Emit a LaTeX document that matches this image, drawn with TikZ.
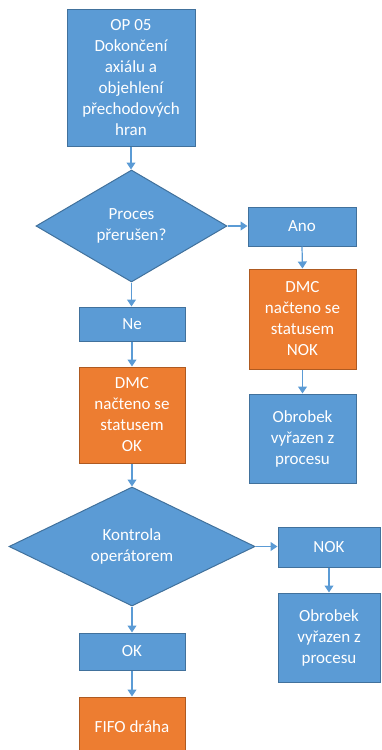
\documentclass[tikz,border=0pt]{standalone}
\usepackage{fontspec}
\setmainfont{Carlito}
\usetikzlibrary{shapes.geometric,arrows.meta}
\definecolor{ofblue}{HTML}{5B9BD5}
\definecolor{ofblueline}{HTML}{41719C}
\definecolor{oforange}{HTML}{ED7D31}
\definecolor{oforangeline}{HTML}{AE5A21}
\tikzset{
  base/.style={draw, line width=1pt, text=white, align=center, inner sep=0pt,
    font=\fontsize{17}{21}\selectfont},
  bluebox/.style={base, rectangle, fill=ofblue, draw=ofblueline},
  orangebox/.style={base, rectangle, fill=oforange, draw=oforangeline},
  decision/.style={base, diamond, fill=ofblue, draw=ofblueline},
  conn/.style={draw=ofblue, line width=1.2pt, -{Triangle[length=7pt,width=9pt]}},
}
\begin{document}
\begin{tikzpicture}[x=1pt,y=-1pt]
\useasboundingbox (0,0) rectangle (381,750);
\node[bluebox, minimum width=128, minimum height=137] (op) at (131,77.5)
  {OP 05\\Dokončení\\axiálu a\\objehlení\\přechodových\\hran};
\node[decision, minimum width=191, minimum height=112] (d1) at (131.5,226)
  {Proces\\přerušen?};
\node[bluebox, minimum width=108, minimum height=39] (ano) at (302,226.5) {Ano};
\node[orangebox, minimum width=107, minimum height=100] (dmcnok) at (302.5,319)
  {DMC\\načteno se\\statusem\\NOK};
\node[bluebox, minimum width=107, minimum height=89] (obr1) at (302.5,438.5)
  {Obrobek\\vyřazen z\\procesu};
\node[bluebox, minimum width=106, minimum height=34] (ne) at (132,324) {Ne};
\node[orangebox, minimum width=106, minimum height=96] (dmcok) at (132,415)
  {DMC\\načteno se\\statusem\\OK};
\node[decision, minimum width=246, minimum height=119] (d2) at (132,546.5)
  {Kontrola\\operátorem};
\node[bluebox, minimum width=102, minimum height=40] (nok) at (329,547) {NOK};
\node[bluebox, minimum width=102, minimum height=89] (obr2) at (329,637.5)
  {Obrobek\\vyřazen z\\procesu};
\node[bluebox, minimum width=106, minimum height=37] (ok) at (132,651.5) {OK};
\node[orangebox, minimum width=106, minimum height=60] (fifo) at (132,727) {FIFO dráha};

\draw[conn] (op.south) -- (op.south |- d1.north);
\draw[conn] (d1.east) -- (d1.east -| ano.west);
\draw[conn] (ano.south) -- (dmcnok.north);
\draw[conn] (dmcnok.south) -- (obr1.north);
\draw[conn] (d1.south) -- (d1.south |- ne.north);
\draw[conn] (ne.south) -- (dmcok.north);
\draw[conn] (dmcok.south) -- (dmcok.south |- d2.north);
\draw[conn] (d2.east) -- (d2.east -| nok.west);
\draw[conn] (nok.south) -- (obr2.north);
\draw[conn] (d2.south) -- (d2.south |- ok.north);
\draw[conn] (ok.south) -- (fifo.north);
\end{tikzpicture}
\end{document}
